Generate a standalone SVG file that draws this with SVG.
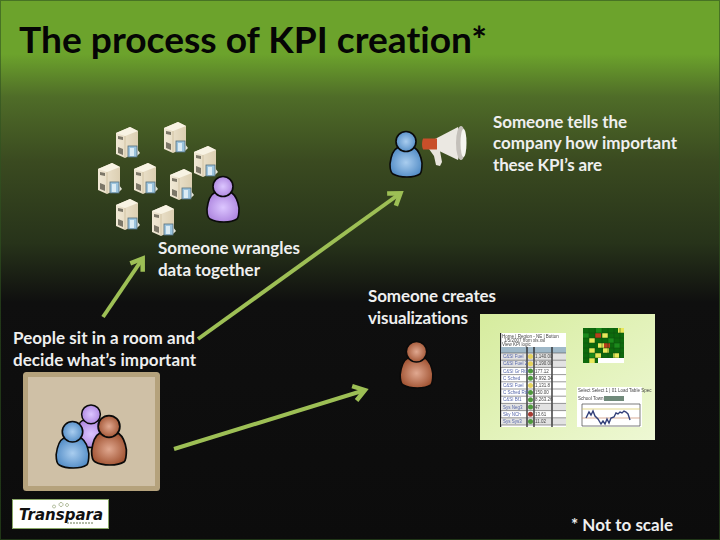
<svg xmlns="http://www.w3.org/2000/svg" width="720" height="540" viewBox="0 0 720 540">
<style>
text{font-family:"Lato","Carlito","Open Sans",sans-serif;font-weight:700;font-variant-ligatures:none}
.l{font-size:17px;fill:#efefef}
.c{fill:none;stroke:#9dbf55;stroke-width:4;marker-end:url(#ah)}
.o{stroke:#0a0a0a;stroke-width:1.6}
.cell{fill:#0b6b0b}.y{fill:#e8e85a}.r{fill:#b8401c}.w{fill:#fff}
.s{font-weight:400;font-family:"Liberation Sans",sans-serif;font-size:4.500px}
.n{fill:#5566aa}.v{fill:#444}
</style>
<defs>
<linearGradient id="bg" x1="0" y1="0" x2="0" y2="1">
<stop offset="0" stop-color="#6ca32c"/><stop offset=".1" stop-color="#6ca32c"/><stop offset=".18" stop-color="#4f6c28"/><stop offset=".3" stop-color="#3a4a20"/><stop offset=".45" stop-color="#27331a"/><stop offset=".56" stop-color="#0f0f0f"/><stop offset="1" stop-color="#0c0c0c"/>
</linearGradient>
<linearGradient id="dash" x1="0" y1="0" x2="1" y2="1"><stop offset="0" stop-color="#d6ec9e"/><stop offset="1" stop-color="#eef8d4"/></linearGradient>
<linearGradient id="sf" x1="0" y1="0" x2="1" y2="0"><stop offset="0" stop-color="#f1e9d6"/><stop offset="1" stop-color="#dccfb2"/></linearGradient>
<radialGradient id="pu" cx=".5" cy=".5" r=".6"><stop offset="0" stop-color="#dcc6ff"/><stop offset="1" stop-color="#a97fdc"/></radialGradient>
<radialGradient id="bl" cx=".5" cy=".5" r=".6"><stop offset="0" stop-color="#a9cdef"/><stop offset="1" stop-color="#4a86c2"/></radialGradient>
<radialGradient id="br" cx=".5" cy=".5" r=".6"><stop offset="0" stop-color="#e0a890"/><stop offset="1" stop-color="#9a4a28"/></radialGradient>
<filter id="soft"><feGaussianBlur stdDeviation=".35"/></filter>
<marker id="ah" markerUnits="userSpaceOnUse" markerWidth="24" markerHeight="24" refX="16" refY="12" orient="auto" viewBox="0 0 24 24"><path d="M8 4.500L19 12L8 19.500" fill="none" stroke="#9dbf55" stroke-width="4.500"/></marker>
<symbol id="srv" viewBox="0 0 24 32" overflow="visible">
<path d="M0 6L14 0L22 4V25L9 31L0 27Z" fill="url(#sf)"/>
<path d="M0 6L14 0L22 4L9 9Z" fill="#f8f3e4"/>
<path d="M9 9V31" stroke="#c2b28e" stroke-width=".6"/>
<path d="M2 9l5 1v3l-5-1zM2 20l5 2v6l-5-2z" fill="#7c7768"/>
<path d="M13 22h8l3 4-4 4h-7z" fill="#e6e6da"/>
<rect x="12" y="19" width="9" height="11" fill="#9cc4de" stroke="#55707f" stroke-width=".8"/>
<rect x="14" y="21" width="4" height="8" fill="#dcecf4"/>
</symbol>
<symbol id="person" viewBox="0 0 32 46" overflow="visible">
<path class="o" d="M7 17C3 19 1 25 0 33C0 38 1 42 3 43C10 47 24 47 30 43C32 41 32 36 32 32C31 25 29 20 25 17Z"/>
<circle class="o" cx="16" cy="10.500" r="10"/>
</symbol>
</defs>
<rect width="720" height="540" fill="url(#bg)"/>
<rect x=".5" y=".5" width="719" height="539" fill="none" stroke="#2f5420" stroke-opacity=".6"/>
<text id="title" x="19" y="53" font-size="36" fill="#050505" textLength="468" lengthAdjust="spacingAndGlyphs">The process of KPI creation*</text>

<g id="connectors">
<path class="c" d="M103 317L141 261"/>
<path class="c" d="M198 339L398 195"/>
<path class="c" d="M174 449L362 391"/>
</g>

<g id="servers">
<use href="#srv" x="116" y="127" width="24" height="32"/>
<use href="#srv" x="164" y="122" width="24" height="32"/>
<use href="#srv" x="194" y="146" width="24" height="32"/>
<use href="#srv" x="98" y="163" width="24" height="32"/>
<use href="#srv" x="134" y="163" width="24" height="32"/>
<use href="#srv" x="170" y="169" width="24" height="32"/>
<use href="#srv" x="116" y="199" width="24" height="32"/>
<use href="#srv" x="152" y="205" width="24" height="32"/>
</g>
<g id="wrangler">
<use href="#person" x="207" y="175" width="32" height="48" fill="url(#pu)"/>
<text class="l" x="158" y="254" textLength="142">Someone wrangles</text>
<text class="l" x="158" y="276" textLength="102">data together</text>
</g>

<g id="teller">
<use href="#person" x="390" y="131" width="32" height="46" fill="url(#bl)"/>
<g id="megaphone" filter="url(#soft)">
<path d="M429 149l7-1 4 3 2 11-2 4-4-1-2-9z" fill="#e8e4dc"/>
<path d="M435 139L458 127L462 143L458 160L435 149Z" fill="#ebe8e2"/>
<path d="M423 138.500h14v11h-14q-2-5.500 0-11z" fill="#c8502a"/>
<ellipse cx="461" cy="143" rx="5" ry="17" fill="#c4c0ba"/>
<ellipse cx="463.500" cy="143" rx="3" ry="14" fill="#f5f5f0"/>
</g>
<text class="l" x="493" y="128" textLength="134">Someone tells the</text>
<text class="l" x="493" y="149" textLength="184">company how important</text>
<text class="l" x="493" y="171" textLength="109">these KPI’s are</text>
</g>

<g id="creator">
<use href="#person" x="400" y="341" width="33" height="47" fill="url(#br)"/>
<text class="l" x="368" y="302" textLength="128">Someone creates</text>
<text class="l" x="368" y="324" textLength="100">visualizations</text>
</g>

<g id="dashboard">
<rect x="480" y="314" width="175" height="126" fill="url(#dash)"/>
<g filter="url(#soft)">
<rect x="500" y="333" width="66" height="94" fill="#fff"/>
<rect x="500" y="333" width="1.200" height="94" fill="#222"/>
<text class="s v" x="502" y="338">Home | Region - NE | Button</text>
<text class="s v" x="504" y="342">1/5/2007 from xls.xsl</text>
<text class="s v" x="502" y="346">View KPI logic</text>
<rect x="501" y="347" width="65" height="6" fill="#9fb8c8"/>
<g fill="#e2e2e2"><rect x="501" y="353" width="65" height="14.400"/><rect x="501" y="403.400" width="65" height="7.200"/><rect x="501" y="417.800" width="65" height="7.200"/></g>
<path d="M527 347V427M534 347V427M552 347V427" stroke="#222" stroke-width="1.300" fill="none"/>
<path d="M501 353H566M501 360.200H566M501 367.400H566M501 374.600H566M501 381.800H566M501 389H566M501 396.200H566M501 403.400H566M501 410.600H566M501 417.800H566M501 425H566" stroke="#555" stroke-width=".6"/>
<g fill="#4f9a3e"><circle cx="530.500" cy="371" r="2.500"/><circle cx="530.500" cy="378.200" r="2.500"/><circle cx="530.500" cy="392.600" r="2.500"/><circle cx="530.500" cy="399.800" r="2.500"/><circle cx="530.500" cy="407" r="2.500"/><circle cx="530.500" cy="421.400" r="2.500"/></g>
<g fill="#e6d35c"><circle cx="530.500" cy="356.600" r="2.500"/><circle cx="530.500" cy="363.800" r="2.500"/><circle cx="530.500" cy="385.400" r="2.500"/></g>
<circle cx="530.500" cy="414.200" r="2.500" fill="#a83a32"/>
<text class="s n" x="503" y="358.200">C&amp;SI Fuel</text><text class="s n" x="503" y="365.400">C&amp;SI Fuel 2</text><text class="s n" x="503" y="372.600">C&amp;SI Gr RtF</text><text class="s n" x="503" y="379.800">C Sched</text><text class="s n" x="503" y="387">C&amp;SI Fuel</text><text class="s n" x="503" y="394.200">C Sched RtF</text><text class="s n" x="503" y="401.400">C&amp;SI Bf1</text><text class="s n" x="503" y="408.600">Sys Neg3</text><text class="s n" x="503" y="415.800">Sky NCh</text><text class="s n" x="503" y="423">Sys Sys3</text>
<text class="s v" x="535" y="358.200">1,140.00</text><text class="s v" x="535" y="365.400">1,190.00</text><text class="s v" x="535" y="372.600">177.12</text><text class="s v" x="535" y="379.800">4,992.34</text><text class="s v" x="535" y="387">1,131.8</text><text class="s v" x="535" y="394.200">150.00</text><text class="s v" x="535" y="401.400">8,263.26</text><text class="s v" x="535" y="408.600">47</text><text class="s v" x="535" y="415.800">13.61</text><text class="s v" x="535" y="423">11.02</text>
</g>
<g id="heatmap" filter="url(#soft)">
<rect x="583" y="328" width="41" height="35" class="cell"/>
<g fill="#1f8a1f"><rect x="583" y="333" width="6" height="5"/><rect x="596" y="328" width="6" height="5"/><rect x="608" y="338" width="6" height="5"/><rect x="614" y="343" width="6" height="5"/><rect x="601" y="358" width="6" height="5"/><rect x="589" y="353" width="6" height="5"/></g>
<g class="y"><rect x="618" y="328" width="6" height="5"/><rect x="602" y="333" width="6" height="5"/><rect x="589" y="338" width="6" height="5"/><rect x="598" y="343" width="7" height="5"/><rect x="589" y="348" width="6" height="5"/><rect x="603" y="348" width="6" height="5"/><rect x="595" y="353" width="6" height="5"/><rect x="613" y="353" width="6" height="5"/><rect x="589" y="358" width="6" height="5"/></g>
<g class="r"><rect x="595" y="333" width="6" height="5"/><rect x="604" y="343" width="6" height="5"/></g>
<path d="M589 328V363M595 328V363M602 328V363M608 328V363M614 328V363M620 328V363M583 333H624M583 338H624M583 343H624M583 348H624M583 353H624M583 358H624" stroke="#064a06" stroke-width=".5"/>
<rect x="598" y="358" width="26" height="5" class="w"/>
</g>
<g id="chart" filter="url(#soft)">
<rect x="577" y="387" width="65" height="40" fill="#fff"/>
<rect x="604" y="396" width="20" height="5" fill="#6f8a7a"/>
<text class="s v" x="578" y="392">Select Select 1 | 01 Load Table Spec</text>
<text class="s v" x="578" y="400">School Town</text>
<path d="M582 404V426H640V404H582" fill="none" stroke="#444" stroke-width=".7"/>
<path d="M582 409H640" stroke="#d8c85a" stroke-width=".7"/>
<path d="M582 418H640" stroke="#c88a6a" stroke-width=".7"/>
<path d="M586 418l3-6 2 3 2-4 2 5 3 3 3 5 2-3 2 3 2-5 2 4 2-5 3-1 2-4 2 1 2-2 2 1 2-2 2 1 2 2 2 6" fill="none" stroke="#33407a" stroke-width="1.400"/>
</g>
</g>

<g id="team">
<rect x="25.500" y="374.500" width="132" height="114" rx="1" fill="#cfc0a6" stroke="#b5a27c" stroke-width="5"/>
<use href="#person" x="76" y="404" width="30" height="44" fill="url(#pu)"/>
<use href="#person" x="56" y="421" width="33" height="47" fill="url(#bl)"/>
<use href="#person" x="91" y="415" width="36" height="50" fill="url(#br)"/>
<text class="l" x="13" y="344" textLength="182">People sit in a room and</text>
<text class="l" x="13" y="366" textLength="183">decide what’s important</text>
</g>

<g id="logo">
<rect x="12.500" y="499.500" width="96" height="29" fill="#fff" stroke="#8aa868" stroke-width="1"/>
<text x="19" y="520" font-size="15" font-style="italic" fill="#111" textLength="84" lengthAdjust="spacingAndGlyphs" style="font-family:'DejaVu Sans',sans-serif">Transpara</text>
<path d="M54 505a1.500 1.500 0 1 0 .1 0M61 502.500a2 2 0 1 0 .1 0M67 503.500a1.500 1.500 0 1 0 .1 0" fill="none" stroke="#8a9a6a" stroke-width=".7"/>
<path d="M67 523H94" stroke="#6b7a55" stroke-width="1.200" stroke-dasharray="2 1"/>
</g>

<text id="note" class="l" x="571" y="531" textLength="102">* Not to scale</text>
</svg>
